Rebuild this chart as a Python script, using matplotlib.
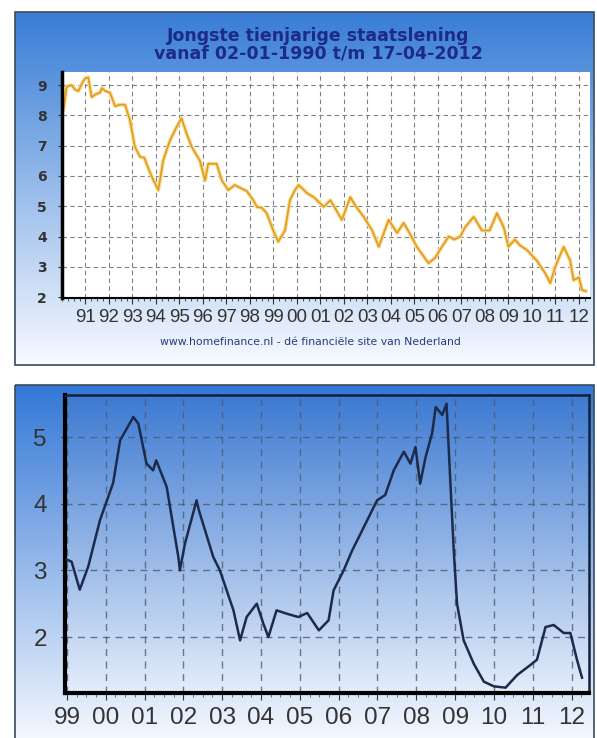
import numpy as np
import matplotlib
matplotlib.use("Agg")
import matplotlib.pyplot as plt
from matplotlib.patches import Rectangle

# 10-year government bond yield, 1990 - 2012 (decimal year, percent)
bond_years = [1990.0, 1990.06, 1990.2, 1990.41, 1990.55, 1990.7, 1990.85, 1990.98, 1991.12, 1991.26,
              1991.45, 1991.62, 1991.7, 1991.85, 1992.04, 1992.26, 1992.45, 1992.68, 1992.89, 1993.1,
              1993.32, 1993.5, 1993.7, 1993.89, 1994.1, 1994.31, 1994.6, 1994.88, 1995.09, 1995.3,
              1995.52, 1995.87, 1996.09, 1996.22, 1996.58, 1996.8, 1997.08, 1997.35, 1997.6, 1997.86,
              1998.14, 1998.3, 1998.5, 1998.71, 1998.99, 1999.2, 1999.49, 1999.7, 1999.91, 2000.07,
              2000.43, 2000.71, 2001.14, 2001.42, 2001.91, 2002.27, 2002.5, 2002.84, 2003.2, 2003.48,
              2003.9, 2004.26, 2004.54, 2004.8, 2005.1, 2005.6, 2005.88, 2006.2, 2006.46, 2006.7,
              2006.95, 2007.15, 2007.52, 2007.87, 2008.2, 2008.51, 2008.8, 2009.0, 2009.27, 2009.5,
              2009.79, 2010.21, 2010.57, 2010.78, 2010.99, 2011.35, 2011.63, 2011.77, 2012.0, 2012.13,
              2012.29]
bond_vals = [8.2, 8.17, 8.95, 9.0, 8.85, 8.8, 9.05, 9.22, 9.25, 8.6,
             8.7, 8.75, 8.9, 8.8, 8.75, 8.3, 8.35, 8.35, 7.85, 6.96,
             6.63, 6.6, 6.2, 5.86, 5.53, 6.52, 7.18, 7.62, 7.9, 7.4,
             6.96, 6.5, 5.85, 6.4, 6.4, 5.85, 5.53, 5.7, 5.6, 5.5,
             5.2, 4.97, 4.95, 4.77, 4.2, 3.83, 4.2, 5.2, 5.53, 5.7,
             5.43, 5.3, 4.98, 5.2, 4.55, 5.3, 5.0, 4.65, 4.2, 3.66,
             4.55, 4.12, 4.45, 4.1, 3.66, 3.12, 3.3, 3.7, 4.0, 3.9,
             4.0, 4.3, 4.65, 4.2, 4.2, 4.77, 4.3, 3.66, 3.9, 3.7,
             3.55, 3.2, 2.78, 2.46, 3.0, 3.66, 3.2, 2.56, 2.65, 2.23,
             2.2]
bond_labels = ["91", "92", "93", "94", "95", "96", "97", "98", "99", "00", "01",
               "02", "03", "04", "05", "06", "07", "08", "09", "10", "11", "12"]

# short rate 1999 - 2012
rate_years = [1999.0, 1999.12, 1999.33, 1999.55, 1999.85, 2000.19, 2000.37, 2000.71, 2000.84, 2001.05,
              2001.22, 2001.3, 2001.57, 2001.87, 2001.91, 2002.04, 2002.34, 2002.4, 2002.77, 2002.94,
              2003.29, 2003.46, 2003.63, 2003.89, 2004.06, 2004.19, 2004.4, 2004.66, 2004.96, 2005.19,
              2005.49, 2005.74, 2005.87, 2006.13, 2006.35, 2006.65, 2006.99, 2007.2, 2007.42, 2007.68,
              2007.85, 2007.98, 2008.1, 2008.24, 2008.41, 2008.5, 2008.67, 2008.78, 2008.88, 2008.97,
              2009.05, 2009.22, 2009.48, 2009.74, 2010.0, 2010.3, 2010.6, 2010.94, 2011.11, 2011.33,
              2011.54, 2011.8, 2011.97, 2012.14, 2012.27]
rate_vals = [3.16, 3.13, 2.71, 3.06, 3.75, 4.31, 4.95, 5.3, 5.2, 4.6,
             4.5, 4.65, 4.25, 3.2, 3.0, 3.4, 4.05, 3.9, 3.2, 3.0,
             2.4, 1.95, 2.3, 2.5, 2.2, 2.0, 2.4, 2.35, 2.3, 2.36,
             2.1, 2.25, 2.7, 3.0, 3.3, 3.65, 4.05, 4.13, 4.5, 4.78,
             4.6, 4.85, 4.3, 4.7, 5.06, 5.45, 5.33, 5.5, 4.3, 3.25,
             2.5, 1.95, 1.6, 1.33, 1.26, 1.24, 1.43, 1.58, 1.66, 2.15,
             2.18, 2.06, 2.06, 1.66, 1.39]
rate_labels = ["99", "00", "01", "02", "03", "04", "05", "06", "07", "08", "09", "10", "11", "12"]

W, H = 597, 738
fig = plt.figure(figsize=(W / 100, H / 100), dpi=100)
fig.patch.set_facecolor("white")


def px_axes(x0, y0, x1, y1):
    return fig.add_axes([x0 / W, 1 - y1 / H, (x1 - x0) / W, (y1 - y0) / H])


def gradient(ax, extent, top, bottom, **kw):
    t = np.linspace(0, 1, 256)[:, None, None]
    img = np.array(top)[None, None, :] * (1 - t) + np.array(bottom)[None, None, :] * t
    ax.imshow(img, extent=extent, aspect="auto", interpolation="bilinear", **kw)


# background layer in pixel coordinates
bg = fig.add_axes([0, 0, 1, 1])
bg.axis("off")
gradient(bg, (15, 594, 365, 12), (0.22, 0.49, 0.84), (0.97, 0.98, 1.0))
bg.add_patch(Rectangle((15, 12), 579, 353, fill=False, ec="#3c4a5e", lw=1.2))
gradient(bg, (15, 594, 745, 385), (0.20, 0.47, 0.84), (0.97, 0.98, 1.0))
bg.add_patch(Rectangle((15, 385), 579, 360, fill=False, ec="#3c4a5e", lw=1.2))
bg.set_xlim(0, W)
bg.set_ylim(H, 0)

bg.text(318, 36, "Jongste tienjarige staatslening", ha="center", va="center",
        fontsize=12.5, fontweight="bold", color="#1c2a88")
bg.text(318, 54, "vanaf 02-01-1990 t/m 17-04-2012", ha="center", va="center",
        fontsize=12.5, fontweight="bold", color="#1c2a88")
bg.text(310, 342, "www.homefinance.nl - dé financiële site van Nederland", ha="center",
        va="center", fontsize=7.8, color="#2a3a80")

# top chart: bond yield
ax1 = px_axes(62, 72, 590, 298)
ax1.set_facecolor("white")
ax1.plot(bond_years, bond_vals, color="#f7dc95", lw=2.8, solid_joinstyle="round")
ax1.plot(bond_years, bond_vals, color="#e39b1c", lw=1.2, solid_joinstyle="round")
ax1.set_xlim(1990.0, 2012.47)
ax1.set_ylim(1.97, 9.43)
ax1.set_yticks(range(2, 10))
ax1.set_xticks(range(1991, 2013))
ax1.set_xticklabels(bond_labels)
ax1.set_xticks(np.arange(1990, 2012.5, 0.25), minor=True)
ax1.grid(True, which="major", color="#808080", ls=(0, (4, 3)), lw=0.8)
ax1.tick_params(axis="y", labelsize=10, colors="#333333", length=3, pad=8)
ax1.tick_params(axis="x", which="major", labelsize=13.5, colors="#333333", length=4, pad=4)
ax1.tick_params(axis="x", which="minor", length=2.5, color="#333333")
for lab in ax1.get_yticklabels():
    lab.set_fontweight("bold")
for lab in ax1.get_xticklabels():
    lab.set_family("Liberation Sans")
ax1.spines["left"].set_linewidth(2.5)
ax1.spines["bottom"].set_linewidth(1.5)
for s in ("top", "right"):
    ax1.spines[s].set_visible(False)

# bottom chart: short rate
ax2 = px_axes(65, 395, 589, 693)
ax2.set_facecolor("none")
gradient(ax2, (0, 1, 0, 1), (0.24, 0.48, 0.82), (0.90, 0.93, 0.98),
         transform=ax2.transAxes, zorder=0)
ax2.plot(rate_years, rate_vals, color="#1c2a4c", lw=1.8, zorder=3)
ax2.set_xlim(1998.95, 2012.45)
ax2.set_ylim(1.16, 5.63)
ax2.set_yticks([2, 3, 4, 5])
ax2.set_xticks(range(1999, 2013))
ax2.set_xticklabels(rate_labels)
ax2.set_xticks(np.arange(1999, 2012.5, 0.25), minor=True)
ax2.grid(True, which="major", color="#4a5c78", ls=(0, (5, 4)), lw=1.0, alpha=0.8)
ax2.tick_params(axis="y", labelsize=17.5, colors="#333333", length=3, pad=10)
ax2.tick_params(axis="x", which="major", labelsize=17.5, colors="#333333", length=5, pad=5)
ax2.tick_params(axis="x", which="minor", length=3, color="#555555")
for lab in ax2.get_xticklabels() + ax2.get_yticklabels():
    lab.set_family("Liberation Sans")
ax2.spines["left"].set_linewidth(3)
ax2.spines["bottom"].set_linewidth(3)
ax2.spines["top"].set_linewidth(1.8)
ax2.spines["right"].set_linewidth(1.8)
ax2.spines["top"].set_color("#13203a")
ax2.spines["right"].set_color("#13203a")

fig.savefig("out.png", dpi=100)
